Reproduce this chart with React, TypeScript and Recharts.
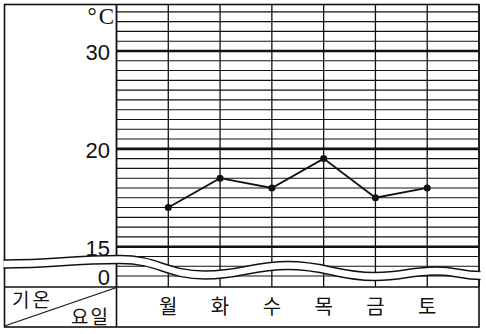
import React from "react"
import { LineChart, Line, XAxis, YAxis, CartesianGrid, ReferenceLine } from "recharts"

// days of the week and temperatures (°C)
const days = ["월", "화", "수", "목", "금", "토"]
const temps = [17, 18.5, 18, 19.5, 17.5, 18]

// labelled ticks on the broken temperature axis
const yTickTemps = [0, 15, 20, 30]
const thickTemps = [15, 20, 30]

// the grid: 1°/row above 20, 0.5°/row between 15 and 20, break below 15
const toRow = (t: number) => (t <= 0 ? -3 : t <= 20 ? (t - 15) * 2 : 10 + (t - 20))
const gridRows = Array.from({ length: 28 }, (_, i) => i - 3)

const W = 486
const H = 334

const chartData = days.map((day, i) => ({ x: i + 1, day, row: toRow(temps[i]) }))

const upper: [number, number][] = [
  [3.5, 260],
  [120, 255.5],
  [205, 271],
  [288, 261.5],
  [375, 272.5],
  [437, 267],
  [480.5, 271.5],
]
const lower: [number, number][] = upper.map(([x, y]) => [x, y + 8])

function smooth(pts: [number, number][], move = true) {
  let d = `${move ? "M" : "L"}${pts[0][0]},${pts[0][1]}`
  for (let i = 1; i < pts.length; i++) {
    const [x0, y0] = pts[i - 1]
    const [x1, y1] = pts[i]
    const dx = (x1 - x0) * 0.45
    d += ` C${x0 + dx},${y0} ${x1 - dx},${y1} ${x1},${y1}`
  }
  return d
}

const YTick = ({ y, payload }: any) => {
  const t = yTickTemps.find((v) => toRow(v) === payload.value)
  return (
    <text x={110} y={y + 9} textAnchor="end" fontSize={22} fontFamily="'Liberation Sans', Arial, sans-serif" fill="#111">
      {t}
    </text>
  )
}

const XTick = ({ x, payload }: any) => (
  <text x={x} y={314} textAnchor="middle" fontSize={20} fontFamily="'Noto Sans CJK KR', sans-serif" fill="#111">
    {days[payload.value - 1]}
  </text>
)

export default function App() {
  return (
    <div style={{ position: "relative", width: W, height: H, background: "#fff" }}>
      <style>{"body{margin:0}"}</style>
      <LineChart width={W} height={H} data={chartData} margin={{ top: 4.5, right: 7, bottom: 0, left: 0 }}>
        <CartesianGrid horizontal={false} stroke="#111" strokeWidth={1.3} />
        <XAxis
          dataKey="x"
          type="number"
          domain={[0, 7]}
          ticks={[1, 2, 3, 4, 5, 6]}
          height={47}
          axisLine={false}
          tickLine={false}
          tick={<XTick />}
        />
        <YAxis
          type="number"
          domain={[-4.12, 24.75]}
          allowDataOverflow
          ticks={yTickTemps.map(toRow)}
          width={116.5}
          axisLine={false}
          tickLine={false}
          tick={<YTick />}
        />
        {gridRows.map((r) => (
          <ReferenceLine
            key={r}
            y={r}
            stroke="#111"
            strokeWidth={thickTemps.map(toRow).includes(r) ? 2.6 : 1.1}
          />
        ))}
        <Line
          type="linear"
          dataKey="row"
          stroke="#111"
          strokeWidth={1.8}
          dot={{ r: 3.5, fill: "#111", stroke: "#111", strokeWidth: 0 }}
          isAnimationActive={false}
        />
      </LineChart>
      <svg width={W} height={H} style={{ position: "absolute", left: 0, top: 0, pointerEvents: "none" }}>
        <rect x={4.5} y={4.5} width={474.5} height={322.5} fill="none" stroke="#111" strokeWidth={1.6} />
        <line x1={116.5} y1={4.5} x2={116.5} y2={327} stroke="#111" strokeWidth={1.6} />
        <line x1={4.5} y1={287} x2={479} y2={287} stroke="#111" strokeWidth={1.6} />
        <line x1={4.5} y1={326} x2={116.5} y2={287.5} stroke="#111" strokeWidth={1.2} />
        <path d={`${smooth(upper)} ${smooth([...lower].reverse(), false)} Z`} fill="#fff" stroke="none" />
        <path d={smooth(upper)} fill="none" stroke="#111" strokeWidth={1.4} />
        <path d={smooth(lower)} fill="none" stroke="#111" strokeWidth={1.4} />
        <text x={114} y={24} textAnchor="end" fontSize={23} fontFamily="'Liberation Serif', serif" fill="#111">
          °&#8202;C
        </text>
        <text x={12} y={307} fontSize={19} letterSpacing={3} fontFamily="'Noto Sans CJK KR', sans-serif" fill="#111">
          기온
        </text>
        <text x={71} y={324} fontSize={19} letterSpacing={2} fontFamily="'Noto Sans CJK KR', sans-serif" fill="#111">
          요일
        </text>
      </svg>
    </div>
  )
}
